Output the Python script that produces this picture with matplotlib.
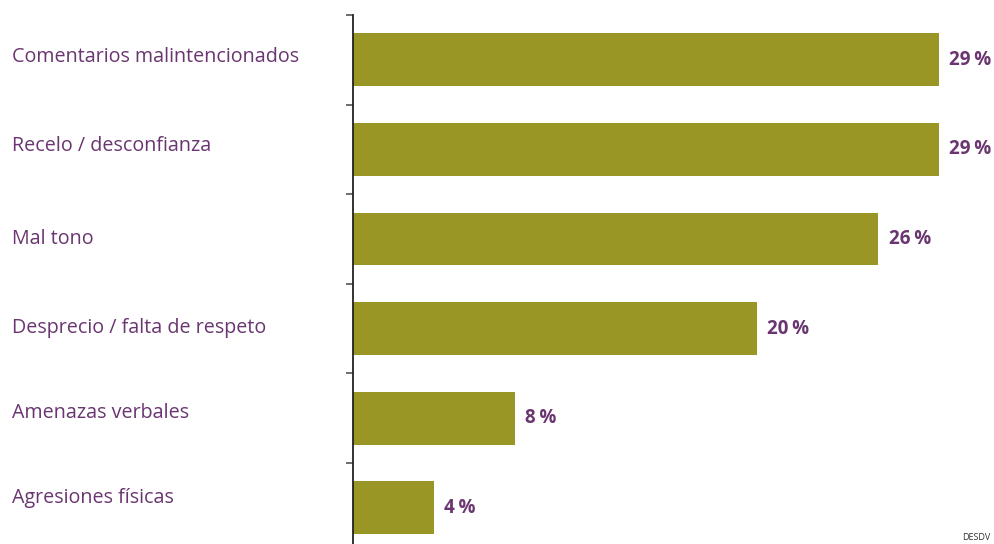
import matplotlib.pyplot as plt

# categories and their shares (%)
categories = [
    "Comentarios malintencionados",
    "Recelo / desconfianza",
    "Mal tono",
    "Desprecio / falta de respeto",
    "Amenazas verbales",
    "Agresiones físicas",
]
values = [29, 29, 26, 20, 8, 4]
value_labels = ["29\u2009%", "29\u2009%", "26\u2009%", "20\u2009%", "8\u2009%", "4\u2009%"]

bar_color = "#9a9626"
text_color = "#6a3570"

plt.rcParams['font.family'] = ['Open Sans', 'DejaVu Sans']

fig = plt.figure(figsize=(9.95, 5.44), dpi=100)
# axis left edge at x=353px, top category boundary at y=15px
ax = fig.add_axes([353 / 995, -0.0158, 0.65, 0.9882])

pos = list(range(len(categories)))
ax.barh(pos, values, height=0.59, color=bar_color)
ax.set_ylim(len(categories) - 0.5, -0.5)
ax.set_xlim(0, 32)

# value labels at bar ends
for y, v, lab in zip(pos, values, value_labels):
    ax.text(v + 0.5, y, lab, ha="left", va="center", fontsize=13.5,
            fontweight="bold", color=text_color)

# category labels, left aligned near the figure edge, nudged upward (pixels)
label_lift = [2.5, 3, 0, 0.5, 5, 9.5]
for y, cat, lift in zip(pos, categories, label_lift):
    ax.annotate(cat, xy=(12 / 995, y), xycoords=("figure fraction", "data"),
                xytext=(0, lift * 0.72), textcoords="offset points",
                fontsize=14.2, color=text_color, ha="left", va="center")

# boundary ticks only, no labels
ax.set_yticks([p - 0.5 for p in pos])
ax.set_yticklabels([])
ax.tick_params(axis="y", direction="out", length=5, width=1.2, color="#555555")
ax.set_xticks([])
for s in ["top", "right", "bottom"]:
    ax.spines[s].set_visible(False)
ax.spines["left"].set_color("#222222")
ax.spines["left"].set_linewidth(1.3)

fig.text(990 / 995, 2 / 544, "DESDV", fontsize=6.5, color="#333333",
         ha="right", va="bottom")

fig.savefig("out.png", dpi=100)
